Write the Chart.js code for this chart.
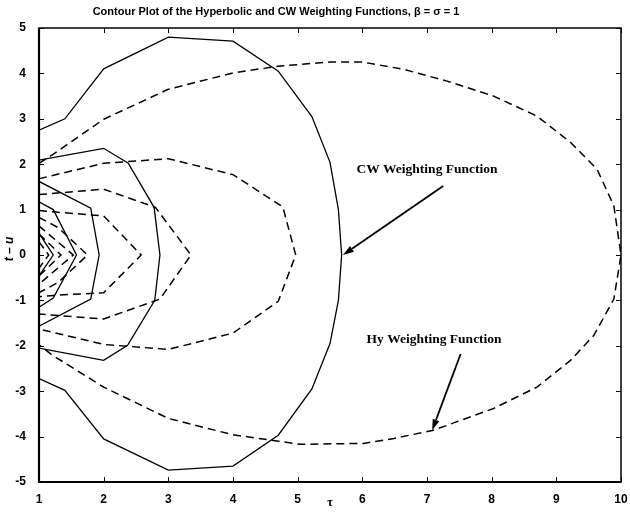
<!DOCTYPE html>
<html>
<head>
<meta charset="utf-8">
<script src="https://cdn.jsdelivr.net/npm/chart.js@4/dist/chart.umd.min.js"></script>
<style>
  html, body { margin: 0; padding: 0; background: #fff; }
  canvas { display: block; }
</style>
</head>
<body>
<canvas id="contour" width="630" height="512"></canvas>
<script>
// Contour lines, as [tau, t-u] pairs, traced round from top-left to bottom-left.

// CW weighting function (solid)
var cwOuter = [[1, 2.75], [1.4, 3.0], [2, 4.1], [3, 4.8], [4, 4.71], [4.7, 4.05], [5.22, 3.05], [5.5, 2.04], [5.63, 1.0], [5.68, 0],
               [5.63, -1.0], [5.5, -1.95], [5.22, -2.95], [4.7, -3.97], [4, -4.65], [3, -4.74], [2, -4.05], [1.4, -2.98], [1, -2.72]];
var cwLevel2 = [[1, 2.09], [2, 2.35], [2.38, 2.02], [2.78, 1.05], [2.87, 0], [2.79, -1.0], [2.37, -1.99], [2, -2.32], [1, -2.05]];
var cwLevel3 = [[1, 1.62], [1.8, 1.03], [1.93, 0], [1.8, -0.97], [1, -1.57]];
var cwLevel4 = [[1, 1.17], [1.22, 1.0], [1.58, 0], [1.22, -0.95], [1, -1.15]];
var cwLevel5 = [[1, 0.48], [1.22, 0], [1, -0.46]];

// Hy weighting function (dashed)
var hyOuter = [[1, 2.02], [1.2, 2.2], [2, 2.99], [3, 3.65], [4, 4.01], [4.7, 4.16], [5.5, 4.25], [6, 4.25], [6.64, 4.09], [7.31, 3.83],
               [8.03, 3.5], [8.7, 3.06], [9.22, 2.48], [9.63, 1.89], [9.89, 1.08], [10, 0], [9.89, -0.97], [9.58, -1.77], [9.22, -2.32],
               [8.7, -2.91], [8.03, -3.38], [7.1, -3.86], [6.49, -4.04], [6.02, -4.15], [5.04, -4.17], [4.7, -4.1], [4, -3.96],
               [3, -3.6], [2, -2.91], [1.2, -2.2], [1, -1.98]];
var hyLevel2 = [[1, 1.68], [2, 2.02], [3, 2.12], [4, 1.77], [4.77, 1.06], [4.97, 0], [4.7, -1.02], [4, -1.72], [3, -2.08], [2, -1.97], [1, -1.63]];
var hyLevel3 = [[1, 1.33], [2, 1.45], [2.8, 1.05], [3.35, 0], [2.87, -0.97], [2, -1.41], [1, -1.3]];
var hyLevel4 = [[1, 0.98], [1.22, 0.95], [2, 0.86], [2.58, 0], [2, -0.83], [1.22, -0.89], [1, -0.92]];
var hyLevel5 = [[1, 0.83], [1.3, 0.6], [1.75, 0], [1.3, -0.6], [1, -0.83]];
var hyLevel6 = [[1, 0.64], [1.53, 0], [1, -0.64]];
var hyLevel7 = [[1, 0.46], [1.34, 0], [1, -0.46]];
var hyLevel8 = [[1, 0.29], [1.15, 0], [1, -0.29]];

var cwContours = [cwOuter, cwLevel2, cwLevel3, cwLevel4, cwLevel5];
var hyContours = [hyOuter, hyLevel2, hyLevel3, hyLevel4, hyLevel5, hyLevel6, hyLevel7, hyLevel8];

var xTicks = [1, 2, 3, 4, 5, 6, 7, 8, 9, 10];
var yTicks = [-5, -4, -3, -2, -1, 0, 1, 2, 3, 4, 5];

var titleText = 'Contour Plot of the Hyperbolic and CW Weighting Functions, \u03b2 = \u03c3 = 1';

// Labels with arrows, in data units
var notes = [
  { text: 'CW Weighting Function', at: [7.0, 1.89], from: [7.25, 1.52], to: [5.7, 0] },
  { text: 'Hy Weighting Function', at: [7.11, -1.86], from: [7.52, -2.18], to: [7.08, -3.86] }
];

function toPoints(list) {
  return list.map(function (p) { return { x: p[0], y: p[1] }; });
}

var datasets = [];
cwContours.forEach(function (c) {
  datasets.push({ data: toPoints(c), borderColor: '#000', borderWidth: 1.3, showLine: true, pointRadius: 0, tension: 0 });
});
hyContours.forEach(function (c) {
  datasets.push({ data: toPoints(c), borderColor: '#000', borderWidth: 1.5, borderDash: [8, 5], showLine: true, pointRadius: 0, tension: 0 });
});

/* ─── frame, inward ticks, titles, annotations ─── */
var decorations = {
  id: 'decorations',
  afterDraw: function (chart) {
    var ctx = chart.ctx;
    var a = chart.chartArea;
    var x = chart.scales.x;
    var y = chart.scales.y;
    var tl = 5;

    ctx.save();
    ctx.strokeStyle = '#000';
    ctx.lineWidth = 1;
    ctx.setLineDash([]);
    ctx.beginPath();
    xTicks.forEach(function (v) {
      var px = Math.round(x.getPixelForValue(v)) + 0.5;
      ctx.moveTo(px, a.bottom); ctx.lineTo(px, a.bottom - tl);
      ctx.moveTo(px, a.top); ctx.lineTo(px, a.top + tl);
    });
    yTicks.forEach(function (v) {
      var py = Math.round(y.getPixelForValue(v)) + 0.5;
      ctx.moveTo(a.left, py); ctx.lineTo(a.left + tl, py);
      ctx.moveTo(a.right, py); ctx.lineTo(a.right - tl, py);
    });
    ctx.stroke();

    ctx.lineWidth = 1.5;
    ctx.strokeRect(a.left, a.top, a.right - a.left, a.bottom - a.top);
    ctx.lineWidth = 2.2;
    ctx.beginPath();
    ctx.moveTo(a.left, a.top); ctx.lineTo(a.left, a.bottom); ctx.lineTo(a.right, a.bottom);
    ctx.stroke();

    // title
    ctx.fillStyle = '#000';
    ctx.font = 'bold 11px "Liberation Sans", Arial, sans-serif';
    ctx.textAlign = 'center';
    ctx.textBaseline = 'middle';
    ctx.fillText(titleText, 276, 12);

    // axis titles
    ctx.font = 'bold 12px "Liberation Serif", serif';
    ctx.fillText('\u03c4', (a.left + a.right) / 2, 503);
    ctx.save();
    ctx.translate(10, y.getPixelForValue(0) - 6);
    ctx.rotate(-Math.PI / 2);
    ctx.font = 'bold italic 12px "Liberation Sans", Arial, sans-serif';
    ctx.fillText('t \u2013 u', 0, 0);
    ctx.restore();

    // annotations
    ctx.font = 'bold 13.5px "Liberation Serif", "Times New Roman", serif';
    notes.forEach(function (n) {
      ctx.fillText(n.text, x.getPixelForValue(n.at[0]), y.getPixelForValue(n.at[1]));
      var x0 = x.getPixelForValue(n.from[0]), y0 = y.getPixelForValue(n.from[1]);
      var x1 = x.getPixelForValue(n.to[0]), y1 = y.getPixelForValue(n.to[1]);
      var ang = Math.atan2(y1 - y0, x1 - x0);
      var head = 11, half = 3.5;
      var bx = x1 - head * Math.cos(ang), by = y1 - head * Math.sin(ang);
      ctx.lineWidth = 1.8;
      ctx.beginPath();
      ctx.moveTo(x0, y0); ctx.lineTo(bx, by);
      ctx.stroke();
      ctx.beginPath();
      ctx.moveTo(x1, y1);
      ctx.lineTo(bx + half * Math.sin(ang), by - half * Math.cos(ang));
      ctx.lineTo(bx - half * Math.sin(ang), by + half * Math.cos(ang));
      ctx.closePath();
      ctx.fill();
    });
    ctx.restore();
  }
};

var tickFont = { family: '"Liberation Sans", Arial, sans-serif', size: 12, weight: 'bold' };

new Chart(document.getElementById('contour'), {
  type: 'scatter',
  data: { datasets: datasets },
  options: {
    responsive: false,
    animation: false,
    devicePixelRatio: 1,
    layout: { autoPadding: false, padding: { top: 28, right: 9, left: 0, bottom: 0 } },
    plugins: { legend: { display: false }, tooltip: { enabled: false }, title: { display: false } },
    scales: {
      x: {
        type: 'linear',
        min: 1, max: 10,
        afterFit: function (s) { s.height = 30; },
        afterBuildTicks: function (s) { s.ticks = xTicks.map(function (v) { return { value: v }; }); },
        grid: { display: false },
        border: { display: false },
        ticks: { color: '#000', font: tickFont, padding: 2, maxRotation: 0, autoSkip: false }
      },
      y: {
        type: 'linear',
        min: -5, max: 5,
        afterFit: function (s) { s.width = 39; },
        afterBuildTicks: function (s) { s.ticks = yTicks.map(function (v) { return { value: v }; }); },
        grid: { display: false },
        border: { display: false },
        ticks: { color: '#000', font: tickFont, padding: 5, autoSkip: false }
      }
    }
  },
  plugins: [decorations]
});
</script>
</body>
</html>
